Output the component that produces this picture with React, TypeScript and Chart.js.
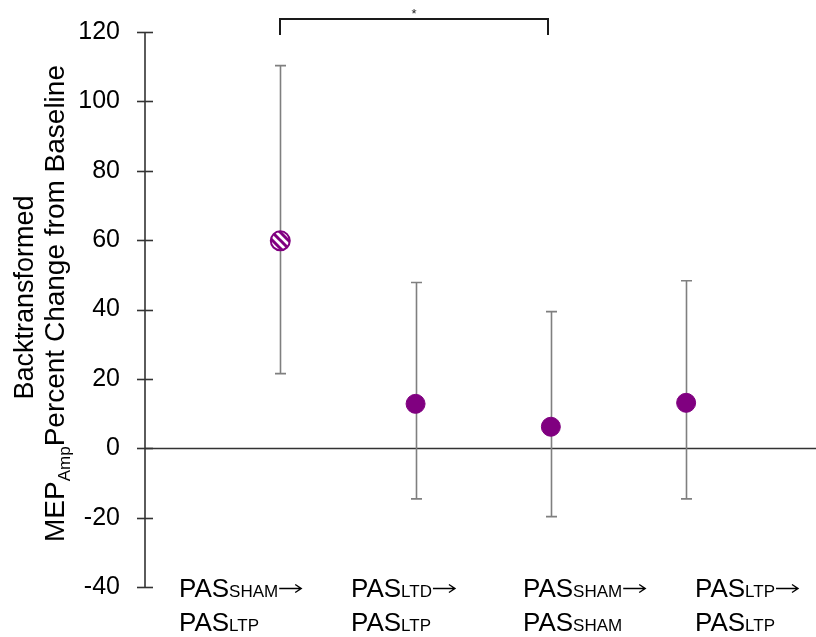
import React, { useEffect, useRef } from "react";
import { Chart, registerables } from "chart.js";

Chart.register(...registerables);

// ---- data ----
const groupTop: [string, string][] = [
  ["PAS", "SHAM"],
  ["PAS", "LTD"],
  ["PAS", "SHAM"],
  ["PAS", "LTP"],
];
const groupBottom: [string, string][] = [
  ["PAS", "LTP"],
  ["PAS", "LTP"],
  ["PAS", "SHAM"],
  ["PAS", "LTP"],
];
const means = [59.8, 12.8, 6.2, 13.1];
const upperCI = [110.3, 47.8, 39.4, 48.3];
const lowerCI = [21.5, -14.6, -19.7, -14.6];
const hatched = [true, false, false, false];
const yMin = -40;
const yMax = 120;
const yStep = 20;
const sigFrom = 0;
const sigTo = 2;
const sigLabel = "*";
const titleLine1 = "Backtransformed";
const titleMain = "MEP";
const titleSub = "Amp";
const titleRest = "Percent Change from Baseline";

const FONT = "'Liberation Sans', Arial, sans-serif";
const PURPLE = "#800080";

function makePattern(): CanvasPattern | string {
  const s = 8;
  const c = document.createElement("canvas");
  c.width = s;
  c.height = s;
  const g = c.getContext("2d");
  if (!g) return PURPLE;
  g.fillStyle = "#ffffff";
  g.fillRect(0, 0, s, s);
  g.strokeStyle = PURPLE;
  g.lineWidth = 3;
  g.beginPath();
  g.moveTo(-s, -s);
  g.lineTo(2 * s, 2 * s);
  g.moveTo(-s, 0);
  g.lineTo(s, 2 * s);
  g.moveTo(0, -s);
  g.lineTo(2 * s, s);
  g.stroke();
  const p = g.createPattern(c, "repeat");
  return p || PURPLE;
}

const decorPlugin = {
  id: "decor",
  beforeDatasetsDraw(chart: any) {
    const { ctx, chartArea, scales } = chart;
    const x = scales.x;
    const y = scales.y;
    ctx.save();
    // y axis line
    ctx.strokeStyle = "#333333";
    ctx.lineWidth = 1.6;
    ctx.beginPath();
    ctx.moveTo(chartArea.left, y.getPixelForValue(yMax));
    ctx.lineTo(chartArea.left, y.getPixelForValue(yMin));
    ctx.stroke();
    // ticks crossing axis
    for (let v = yMin; v <= yMax; v += yStep) {
      const py = Math.round(y.getPixelForValue(v)) + 0.5;
      ctx.beginPath();
      ctx.moveTo(chartArea.left - 8, py);
      ctx.lineTo(chartArea.left + 8, py);
      ctx.stroke();
    }
    // zero line
    const z = Math.round(y.getPixelForValue(0)) + 0.5;
    ctx.beginPath();
    ctx.moveTo(chartArea.left, z);
    ctx.lineTo(chart.width, z);
    ctx.stroke();
    // error bars
    ctx.strokeStyle = "#7f7f7f";
    ctx.lineWidth = 1.6;
    for (let i = 0; i < means.length; i++) {
      const px = Math.round(x.getPixelForValue(i + 1)) + 0.5;
      const pu = y.getPixelForValue(upperCI[i]);
      const pl = y.getPixelForValue(lowerCI[i]);
      ctx.beginPath();
      ctx.moveTo(px, pu);
      ctx.lineTo(px, pl);
      ctx.moveTo(px - 5.5, pu);
      ctx.lineTo(px + 5.5, pu);
      ctx.moveTo(px - 5.5, pl);
      ctx.lineTo(px + 5.5, pl);
      ctx.stroke();
    }
    ctx.restore();
  },
  afterDraw(chart: any) {
    const { ctx, chartArea, scales } = chart;
    const x = scales.x;
    ctx.save();
    // significance bracket
    const bx1 = Math.round(x.getPixelForValue(sigFrom + 1));
    const bx2 = Math.round(x.getPixelForValue(sigTo + 1)) - 3;
    const top = chartArea.top - 13;
    ctx.strokeStyle = "#1a1a1a";
    ctx.lineWidth = 2;
    ctx.beginPath();
    ctx.moveTo(bx1, chartArea.top + 3);
    ctx.lineTo(bx1, top);
    ctx.lineTo(bx2, top);
    ctx.lineTo(bx2, chartArea.top + 3);
    ctx.stroke();
    ctx.fillStyle = "#222";
    ctx.font = `13px ${FONT}`;
    ctx.textAlign = "center";
    ctx.textBaseline = "alphabetic";
    ctx.fillText(sigLabel, (bx1 + bx2) / 2, top - 1);

    // category labels
    ctx.textAlign = "left";
    ctx.fillStyle = "#000";
    const drawLabel = (x0: number, yb: number, parts: [string, string], arrow: boolean) => {
      let cx = x0;
      ctx.font = `26px ${FONT}`;
      ctx.fillText(parts[0], cx, yb);
      cx += ctx.measureText(parts[0]).width;
      ctx.font = `17px ${FONT}`;
      ctx.fillText(parts[1], cx, yb);
      cx += ctx.measureText(parts[1]).width;
      if (arrow) {
        const ay = yb - 8.5;
        const ax1 = cx + 1;
        const ax2 = cx + 23;
        ctx.save();
        ctx.strokeStyle = "#000";
        ctx.lineWidth = 1.4;
        ctx.beginPath();
        ctx.moveTo(ax1, ay);
        ctx.lineTo(ax2, ay);
        ctx.moveTo(ax2 - 6, ay - 4);
        ctx.lineTo(ax2, ay);
        ctx.lineTo(ax2 - 6, ay + 4);
        ctx.stroke();
        ctx.restore();
      }
    };
    for (let i = 0; i < groupTop.length; i++) {
      const x0 = chartArea.left + 34 + i * 172;
      drawLabel(x0, chartArea.bottom + 10, groupTop[i], true);
      drawLabel(x0, chartArea.bottom + 44, groupBottom[i], false);
    }

    // y title
    const cy = (chartArea.top + chartArea.bottom) / 2 - 12;
    ctx.save();
    ctx.translate(33, cy);
    ctx.rotate(-Math.PI / 2);
    ctx.textAlign = "center";
    ctx.font = `27px ${FONT}`;
    ctx.fillText(titleLine1, 0, 0);
    ctx.restore();

    ctx.save();
    ctx.translate(64, cy + 6);
    ctx.rotate(-Math.PI / 2);
    ctx.textAlign = "left";
    ctx.font = `28px ${FONT}`;
    const w1 = ctx.measureText(titleMain).width;
    const w3 = ctx.measureText(titleRest).width;
    ctx.font = `17px ${FONT}`;
    const w2 = ctx.measureText(titleSub).width;
    let tx = -(w1 + w2 + w3) / 2;
    ctx.font = `28px ${FONT}`;
    ctx.fillText(titleMain, tx, 0);
    tx += w1;
    ctx.font = `17px ${FONT}`;
    ctx.fillText(titleSub, tx, 6);
    tx += w2;
    ctx.font = `28px ${FONT}`;
    ctx.fillText(titleRest, tx, 0);
    ctx.restore();

    ctx.restore();
  },
};

export default function App() {
  const ref = useRef<HTMLCanvasElement | null>(null);
  useEffect(() => {
    document.body.style.margin = "0";
    const canvas = ref.current;
    if (!canvas) return;
    const pattern = makePattern();
    const chart = new Chart(canvas, {
      type: "scatter",
      data: {
        datasets: [
          {
            data: means.map((v, i) => ({ x: i + 1, y: v })),
            backgroundColor: hatched.map((h) => (h ? pattern : PURPLE)) as any,
            borderColor: PURPLE,
            borderWidth: hatched.map((h) => (h ? 2 : 1)) as any,
            pointRadius: 9.5,
            pointHoverRadius: 9.5,
          },
        ],
      },
      options: {
        animation: false,
        responsive: false,
        events: [],
        layout: { autoPadding: false, padding: { top: 32, bottom: 50, left: 0, right: 0 } },
        plugins: { legend: { display: false }, tooltip: { enabled: false } },
        scales: {
          x: { type: "linear", min: 0, max: 4.96, display: false },
          y: {
            min: yMin,
            max: yMax,
            ticks: {
              stepSize: yStep,
              color: "#000",
              font: { size: 25, family: FONT },
              padding: 17,
            },
            grid: { display: false, drawTicks: true, tickLength: 8 },
            border: { display: false },
            afterFit: (s: any) => {
              s.width = 145;
            },
          },
        },
      } as any,
      plugins: [decorPlugin],
    });
    return () => chart.destroy();
  }, []);
  return (
    <div style={{ width: 816, height: 637 }}>
      <canvas ref={ref} width={816} height={637} style={{ display: "block" }} />
    </div>
  );
}
